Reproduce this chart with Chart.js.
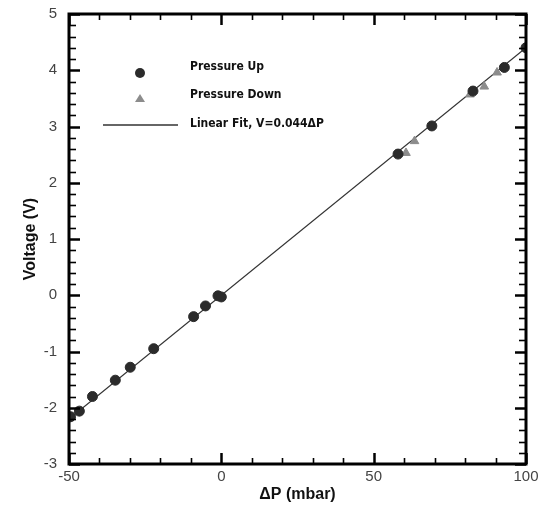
<!DOCTYPE html>
<html>
<head>
<meta charset="utf-8">
<script src="https://cdn.jsdelivr.net/npm/chart.js@4.4.0/dist/chart.umd.min.js"></script>
<style>
  html, body { margin: 0; padding: 0; background: #fff; }
  #wrap { width: 539px; height: 506px; }
</style>
</head>
<body>
<div id="wrap"><canvas id="chart"></canvas></div>
<script>
// values
const upP = [-49.5, -46.6, -42.3, -34.8, -29.9, -22.2, -9.1, -5.2, -1.1, 0, 58.0, 69.1, 82.6, 92.9, 100];
const upV = [-2.16, -2.06, -1.80, -1.51, -1.28, -0.95, -0.38, -0.19, -0.01, -0.03, 2.51, 3.01, 3.63, 4.05, 4.40];

const downP = [60.6, 63.4, 81.6, 86.3, 90.5, 100];
const downV = [2.53, 2.74, 3.57, 3.71, 3.96, 4.40];

const fitP = [-50, 100];
const fitV = [-2.2, 4.4];

const xTicks = [-50, 0, 50, 100];
const yTicks = [-3, -2, -1, 0, 1, 2, 3, 4, 5];

const legendNames = ['Pressure Up', 'Pressure Down', 'Linear Fit, V=0.044\u0394P'];

const toPoints = (xs, ys) => xs.map((x, i) => ({ x: x, y: ys[i] }));

const tickFont = { family: 'Liberation Sans, Arial, sans-serif', size: 15 };
const titleFont = { family: 'Liberation Sans, Arial, sans-serif', size: 16, weight: 'bold' };

function tick(ctx, x0, y0, x1, y1, w) {
  ctx.lineWidth = w;
  ctx.beginPath();
  ctx.moveTo(x0, y0);
  ctx.lineTo(x1, y1);
  ctx.stroke();
}

// frame + inward ticks on all four sides
const framePlugin = {
  id: 'frame',
  afterDraw(chart) {
    const ctx = chart.ctx;
    const a = chart.chartArea;
    const sx = chart.scales.x, sy = chart.scales.y;
    ctx.save();
    ctx.strokeStyle = '#000';

    for (let k = -5; k <= 10; k++) {
      const px = Math.round(sx.getPixelForValue(k * 10)) + 0.5;
      const major = (k % 5 === 0);
      const len = major ? 11 : 6;
      const w = major ? 2.5 : 1.6;
      tick(ctx, px, a.bottom, px, a.bottom - len, w);
      tick(ctx, px, a.top, px, a.top + len, w);
    }
    for (let k = -15; k <= 25; k++) {
      const py = Math.round(sy.getPixelForValue(k / 5)) + 0.5;
      const major = (k % 5 === 0);
      const len = major ? 11 : 7;
      const w = major ? 2.5 : 1.6;
      tick(ctx, a.left, py, a.left + len, py, w);
      tick(ctx, a.right, py, a.right - len, py, w);
    }

    ctx.lineWidth = 3;
    ctx.strokeRect(a.left, a.top, a.right - a.left, a.bottom - a.top);
    ctx.restore();
  }
};

// legend drawn inside the plot, like the original
const insideLegend = {
  id: 'insideLegend',
  afterDraw(chart) {
    const ctx = chart.ctx;
    const a = chart.chartArea;
    const lx = a.left + 71, tx = a.left + 121;
    ctx.save();
    ctx.fillStyle = '#2b2b2b';
    ctx.beginPath();
    ctx.arc(lx, a.top + 59, 5, 0, Math.PI * 2);
    ctx.fill();

    ctx.fillStyle = '#8c8c8c';
    ctx.beginPath();
    ctx.moveTo(lx, a.top + 80);
    ctx.lineTo(lx + 5, a.top + 88);
    ctx.lineTo(lx - 5, a.top + 88);
    ctx.closePath();
    ctx.fill();

    ctx.strokeStyle = '#333';
    ctx.lineWidth = 1.5;
    ctx.beginPath();
    ctx.moveTo(a.left + 34, a.top + 111);
    ctx.lineTo(a.left + 109, a.top + 111);
    ctx.stroke();

    ctx.fillStyle = '#111';
    ctx.font = 'bold 12px "Liberation Sans Narrow", "DejaVu Sans Condensed", "Arial Narrow", sans-serif';
    ctx.textBaseline = 'middle';
    ctx.fillText(legendNames[0], tx, a.top + 53);
    ctx.fillText(legendNames[1], tx, a.top + 81);
    ctx.fillText(legendNames[2], tx, a.top + 110);
    ctx.restore();
  }
};

new Chart(document.getElementById('chart'), {
  type: 'scatter',
  data: {
    datasets: [
      {
        label: legendNames[0],
        data: toPoints(upP, upV),
        pointStyle: 'circle',
        pointRadius: 5,
        pointBackgroundColor: '#2b2b2b',
        pointBorderColor: '#2b2b2b',
        order: 0
      },
      {
        label: legendNames[1],
        data: toPoints(downP, downV),
        pointStyle: 'triangle',
        pointRadius: 5,
        pointBackgroundColor: '#8c8c8c',
        pointBorderColor: '#8c8c8c',
        order: 1
      },
      {
        type: 'line',
        label: legendNames[2],
        data: toPoints(fitP, fitV),
        borderColor: '#333',
        borderWidth: 1.2,
        pointRadius: 0,
        fill: false,
        order: 2
      }
    ]
  },
  options: {
    responsive: true,
    maintainAspectRatio: false,
    animation: false,
    layout: { padding: { top: 14, right: 13, left: 0, bottom: 0 } },
    plugins: { legend: { display: false }, tooltip: { enabled: false } },
    scales: {
      x: {
        type: 'linear',
        min: -50, max: 100,
        afterBuildTicks: s => { s.ticks = xTicks.map(v => ({ value: v })); },
        afterFit: s => { s.height = 42; s.paddingLeft = 0; s.paddingRight = 0; },
        grid: { display: false, drawTicks: false },
        border: { display: false },
        ticks: { color: '#444', font: tickFont, padding: 4, autoSkip: false, maxRotation: 0 },
        title: { display: true, text: '\u0394P (mbar)', color: '#111', font: titleFont, padding: { top: 0, bottom: 2 } }
      },
      y: {
        type: 'linear',
        min: -3, max: 5,
        afterBuildTicks: s => { s.ticks = yTicks.map(v => ({ value: v })); },
        afterFit: s => { s.width = 69; s.paddingTop = 0; s.paddingBottom = 0; },
        grid: { display: false, drawTicks: false },
        border: { display: false },
        ticks: { color: '#444', font: tickFont, padding: 12, autoSkip: false },
        title: { display: true, text: 'Voltage (V)', color: '#111', font: titleFont, padding: { top: 21, bottom: 0 } }
      }
    }
  },
  plugins: [framePlugin, insideLegend]
});
</script>
</body>
</html>
